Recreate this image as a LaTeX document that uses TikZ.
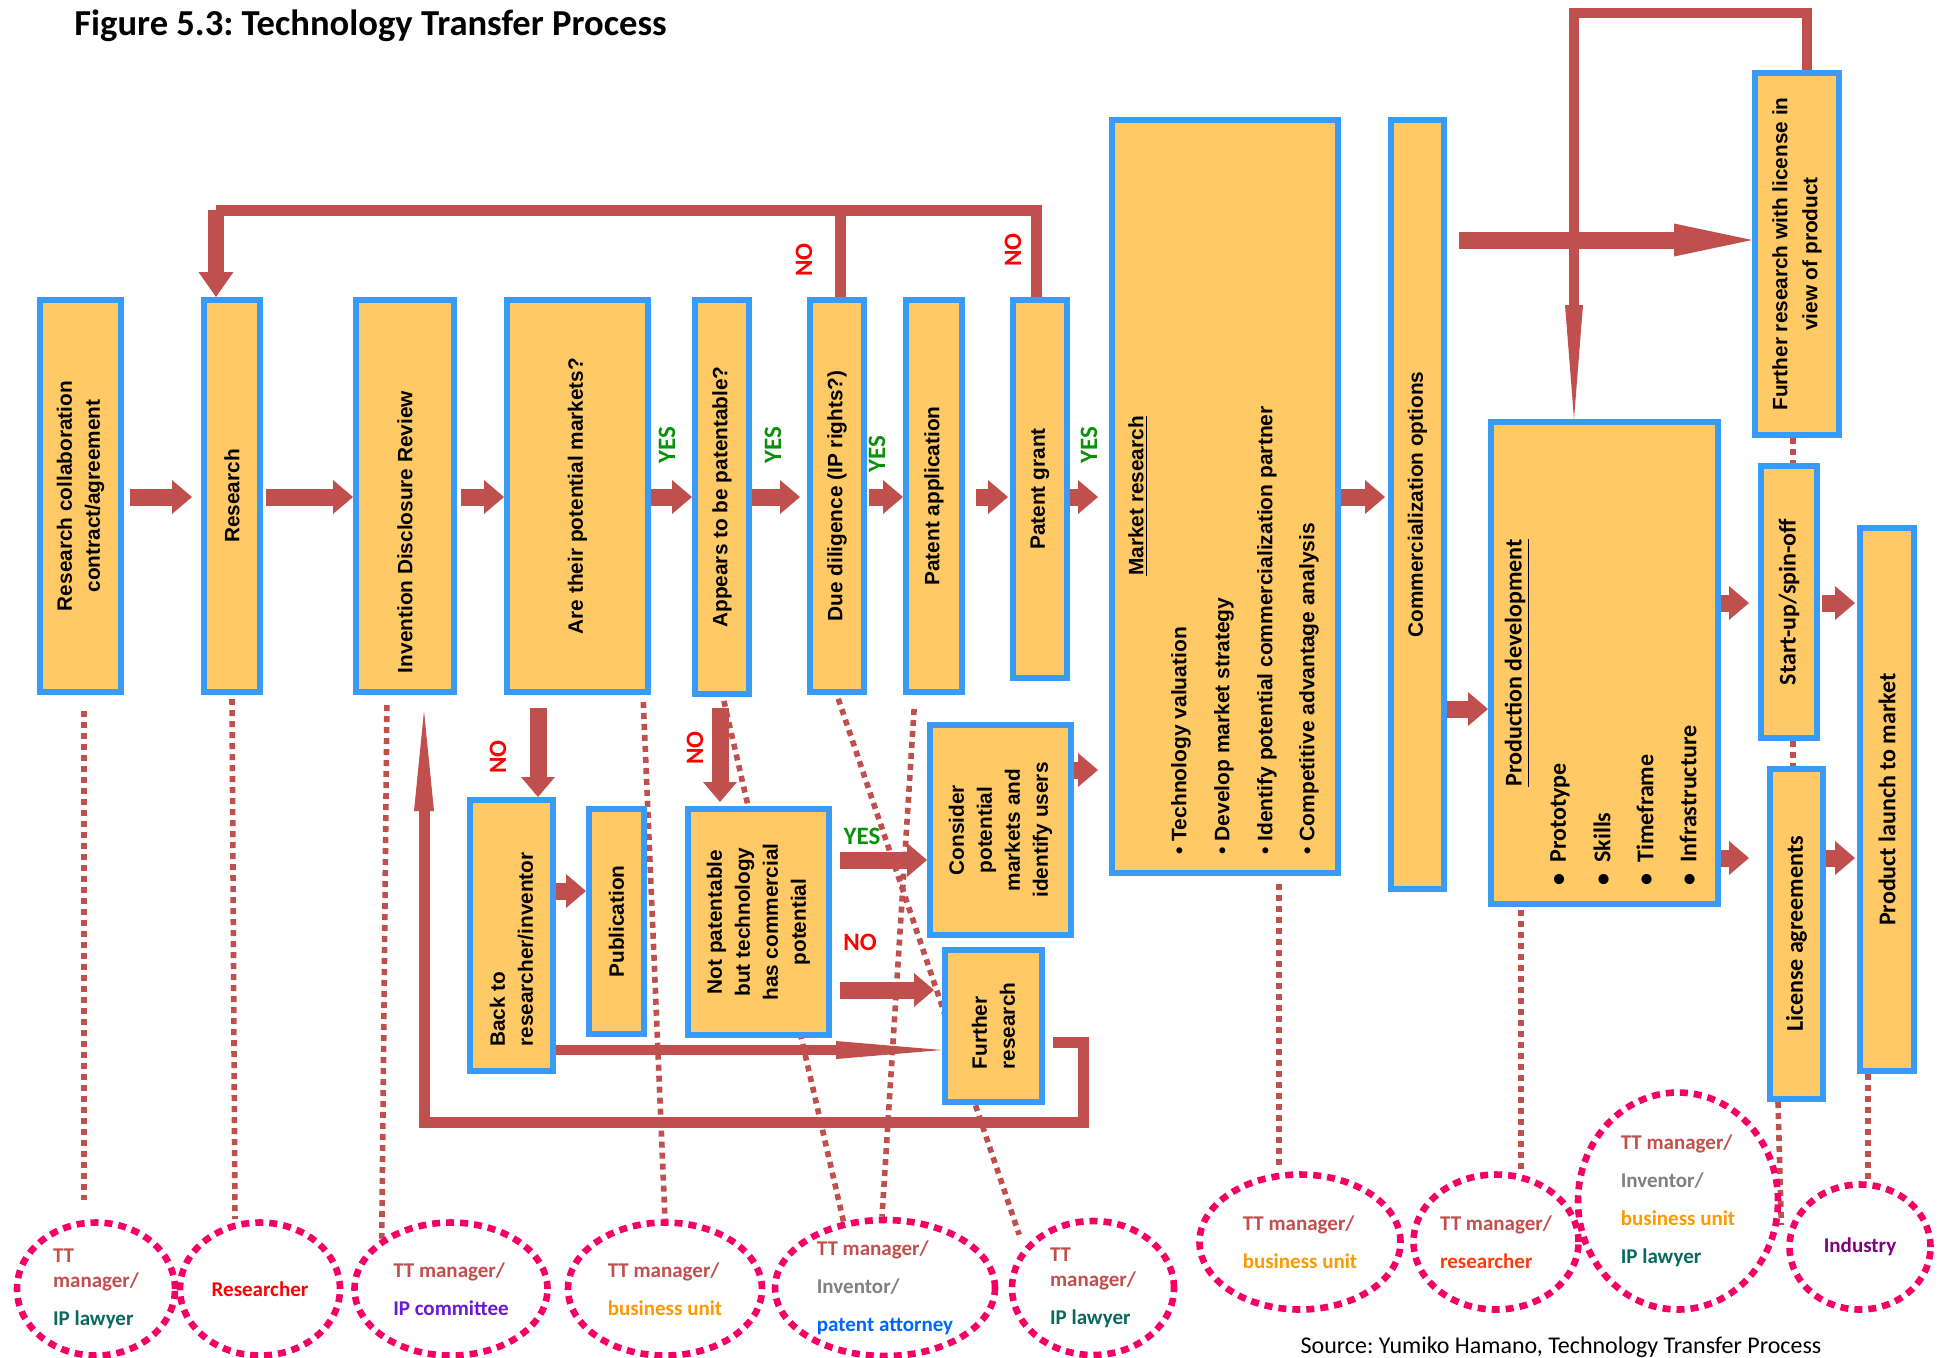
\documentclass[tikz,border=0pt]{standalone}
\usepackage{fontspec}
\setmainfont{Liberation Sans}
\newfontfamily\carlito{Carlito}
\usepackage{xcolor}
\usetikzlibrary{arrows.meta, positioning, fit, backgrounds, calc, shapes.geometric}
\frenchspacing

\definecolor{boxfill}{RGB}{255,202,102}
\definecolor{boxblue}{RGB}{58,154,248}
\definecolor{flowred}{RGB}{192,80,77}
\definecolor{yesgreen}{RGB}{10,145,10}
\definecolor{nored}{RGB}{255,0,0}
\definecolor{rolepink}{RGB}{245,0,100}
\definecolor{ttbrown}{RGB}{192,80,77}
\definecolor{lawteal}{RGB}{10,105,95}
\definecolor{cttviolet}{RGB}{105,25,215}
\definecolor{unitorange}{RGB}{255,153,0}
\definecolor{invgray}{RGB}{128,128,128}
\definecolor{attblue}{RGB}{0,102,255}
\definecolor{resred}{RGB}{255,0,0}
\definecolor{resorange}{RGB}{250,60,10}
\definecolor{indpurple}{RGB}{128,0,128}

\begin{document}
\begin{tikzpicture}[x=0.5pt, y=-0.5pt,
    box/.style={draw=boxblue, line width=3pt, fill=boxfill, inner sep=0pt},
    vtxt/.style={rotate=90, align=center, inner sep=0pt, font=\bfseries\fontsize{10.4}{14}\selectfont},
    ctxt/.style={rotate=90, align=center, inner sep=0pt, font=\carlito\bfseries\fontsize{12}{15}\selectfont},
    mitem/.style={rotate=90, anchor=west, inner sep=0pt, font=\bfseries\fontsize{10.5}{14}\selectfont},
    pitem/.style={rotate=90, anchor=west, inner sep=0pt, font=\carlito\bfseries\fontsize{12}{15}\selectfont},
    role/.style 2 args={ellipse, draw=rolepink, line width=3.3pt, dash pattern=on 4pt off 3pt,
        minimum width=#1, minimum height=#2, inner sep=0pt, align=left,
        font=\carlito\bfseries\fontsize{10.5}{19}\selectfont},
    yesv/.style={rotate=90, inner sep=0pt, text=yesgreen, font=\carlito\bfseries\fontsize{12.5}{14}\selectfont},
    nov/.style={yesv, text=nored},
    yesh/.style={inner sep=0pt, text=yesgreen, font=\carlito\bfseries\fontsize{12.5}{14}\selectfont},
    noh/.style={yesh, text=nored},
    arr/.style={color=flowred, line width=8.5pt, -{Triangle[length=10pt, width=17pt, line width=0pt]}},
    bigarr/.style={color=flowred, line width=8.5pt, -{Triangle[length=39pt, width=16.5pt, line width=0pt]}},
    thinarr/.style={color=flowred, line width=5pt, -{Triangle[length=53pt, width=9pt, line width=0pt]}},
    backline/.style={color=flowred, line width=5.5pt},
    dotline/.style={color=flowred, line width=2.8pt, dash pattern=on 3pt off 2.5pt}
]
    \useasboundingbox (0,0) rectangle (1939,1357);

    % Title and source
    \node[anchor=west, inner sep=0pt, font=\carlito\bfseries\fontsize{18.3}{22}\selectfont] (title) at (74,26) {Figure 5.3: Technology Transfer Process};
    \node[inner sep=0pt, font=\carlito\fontsize{12}{14}\selectfont] (source) at (1561,1347) {Source: Yumiko Hamano, Technology Transfer Process};

    % Main row
    \node[box, fit={(40,300) (121,692)}] (rca) {};
    \node[box, fit={(204,300) (260,692)}] (res) {};
    \node[box, fit={(356,300) (454,692)}] (idr) {};
    \node[box, fit={(507,300) (648,692)}] (mkt) {};
    \node[box, fit={(695,300) (749,694)}] (pat) {};
    \node[box, fit={(810,300) (864,692)}] (due) {};
    \node[box, fit={(906,300) (962,692)}] (app) {};
    \node[box, fit={(1013,300) (1067,678)}] (grant) {};
    \node[box, fit={(1112,120) (1338,873)}] (mres) {};
    \node[box, fit={(1391,120) (1444,889)}] (comm) {};
    \node[box, fit={(1491,422) (1718,904)}] (prod) {};
    \node[box, fit={(1755,73) (1839,435)}] (frl) {};
    \node[box, fit={(1761,466) (1817,738)}] (start) {};
    \node[box, fit={(1770,769) (1823,1099)}] (lic) {};
    \node[box, fit={(1860,528) (1914,1071)}] (launch) {};

    % Lower branch
    \node[box, fit={(470,800) (553,1071)}] (back) {};
    \node[box, fit={(589,809) (644,1034)}] (pub) {};
    \node[box, fit={(688,809) (829,1035)}] (notp) {};
    \node[box, fit={(930,725) (1071,935)}] (cons) {};
    \node[box, fit={(945,950) (1042,1102)}] (furth) {};

    % Box texts
    \node[vtxt] (rca-t) at (rca) {Research collaboration\\contract/agreement};
    \node[vtxt] (res-t) at (res) {Research};
    \node[vtxt] (idr-t) at ($(idr)+(0,36)$) {Invention Disclosure Review};
    \node[vtxt] (mkt-t) at (mkt) {Are their potential markets?};
    \node[vtxt] (pat-t) at (pat) {Appears to be patentable?};
    \node[vtxt] (due-t) at (due) {Due diligence (IP rights?)};
    \node[vtxt] (app-t) at (app) {Patent application};
    \node[vtxt] (grant-t) at (grant) {Patent grant};
    \node[vtxt] (comm-t) at (comm) {Commercialization options};
    \node[vtxt, font=\bfseries\fontsize{10.4}{15}\selectfont] (frl-t) at (frl) {Further research with license in\\view of product};
    \node[ctxt] (start-t) at (start) {Start-up/spin-off};
    \node[ctxt] (lic-t) at (lic) {License agreements};
    \node[ctxt] (launch-t) at (launch) {Product launch to market};
    \node[vtxt, align=left] (back-t) at ($(back)+(0,14)$) {Back to\\researcher/inventor};
    \node[vtxt] (pub-t) at (pub) {Publication};
    \node[vtxt] (notp-t) at (notp) {Not patentable\\but technology\\has commercial\\potential};
    \node[vtxt] (cons-t) at (cons) {Consider\\potential\\markets and\\identify users};
    \node[vtxt, align=left] (furth-t) at (furth) {Further\\research};

    % Market research content
    \node[vtxt] (mres-h) at (1138,496) {\underline{Market research}};
    \node[mitem] (mres-i1) at (1181,855) {• Technology valuation};
    \node[mitem] (mres-i2) at (1224,855) {• Develop market strategy};
    \node[mitem] (mres-i3) at (1267,855) {• Identify potential commercialization partner};
    \node[mitem] (mres-i4) at (1309,855) {• Competitive advantage analysis};

    % Production development content
    \node[ctxt] (prod-h) at (1517,663) {\underline{Production development}};
    \node[pitem] (prod-i1) at (1560,886) {•\hspace{5.5pt}Prototype};
    \node[pitem] (prod-i2) at (1602,886) {•\hspace{5.5pt}Skills};
    \node[pitem] (prod-i3) at (1645,886) {•\hspace{5.5pt}Timeframe};
    \node[pitem] (prod-i4) at (1688,886) {•\hspace{5.5pt}Infrastructure};

    % Decision labels
    \node[yesv] (yes1) at (667,445) {YES};
    \node[yesv] (yes2) at (773,445) {YES};
    \node[yesv] (yes3) at (877,454) {YES};
    \node[yesv] (yes4) at (1089,445) {YES};
    \node[nov] (no1) at (804,260) {NO};
    \node[nov] (no2) at (1013,250) {NO};
    \node[nov] (no3) at (498,757) {NO};
    \node[nov] (no4) at (695,748) {NO};
    \node[yesh] (yes5) at (862,836) {YES};
    \node[noh] (no5) at (860,942) {NO};

    % Actors
    \node[role={79pt}{66.5pt}] (e1) at (96,1289) {\textcolor{ttbrown}{TT}\\[-6.25pt]\textcolor{ttbrown}{manager/}\\\textcolor{lawteal}{IP lawyer}};
    \node[role={80pt}{66.5pt}] (e2) at (260,1289) {\textcolor{resred}{Researcher}};
    \node[role={96.5pt}{66.5pt}] (e3) at (451,1289) {\textcolor{ttbrown}{TT manager/}\\\textcolor{cttviolet}{IP committee}};
    \node[role={97pt}{66.5pt}] (e4) at (665,1289) {\textcolor{ttbrown}{TT manager/}\\\textcolor{unitorange}{business unit}};
    \node[role={110pt}{68pt}] (e5) at (885,1288) {\textcolor{ttbrown}{TT manager/}\\\textcolor{invgray}{Inventor/}\\\textcolor{attblue}{patent attorney}};
    \node[role={81pt}{67pt}] (e6) at (1093,1288) {\textcolor{ttbrown}{TT}\\[-6.25pt]\textcolor{ttbrown}{manager/}\\\textcolor{lawteal}{IP lawyer}};
    \node[role={100.5pt}{67.5pt}] (e7) at (1300,1242) {\textcolor{ttbrown}{TT manager/}\\\textcolor{unitorange}{business unit}};
    \node[role={82.5pt}{67.5pt}] (e8) at (1496,1242) {\textcolor{ttbrown}{TT manager/}\\\textcolor{resorange}{researcher}};
    \node[role={100pt}{108.5pt}] (e9) at (1678,1201) {\textcolor{ttbrown}{TT manager/}\\\textcolor{invgray}{Inventor/}\\\textcolor{unitorange}{business unit}\\\textcolor{lawteal}{IP lawyer}};
    \node[role={70.5pt}{62.5pt}] (e10) at (1860,1247) {\textcolor{indpurple}{Industry}};

    \begin{scope}[on background layer]
        % Forward flow
        \draw[arr, shorten <=3pt, shorten >=4.5pt] (rca.east |- 0,497) -- (res.west |- 0,497);
        \draw[arr, shorten <=1.5pt] (res.east |- 0,497) -- (idr.west |- 0,497);
        \draw[arr, shorten <=2pt] (idr.east |- 0,497) -- (mkt.west |- 0,497);
        \draw[arr, shorten <=-4pt] (mkt.east |- 0,497) -- (pat.west |- 0,497);
        \draw[arr, shorten >=3.5pt] (pat.east |- 0,497) -- (due.west |- 0,497);
        \draw[arr, shorten <=1pt] (due.east |- 0,497) -- (app.west |- 0,497);
        \draw[arr, shorten <=5.5pt, shorten >=1pt] (app.east |- 0,497) -- (grant.west |- 0,497);
        \draw[arr, shorten >=5.5pt] (grant.east |- 0,497) -- (mres.west |- 0,497);
        \draw[arr, shorten >=1.5pt] (mres.east |- 0,497) -- (comm.west |- 0,497);
        \draw[arr] (comm.east |- 0,709) -- (prod.west |- 0,709);
        \draw[arr, shorten >=4.5pt] (prod.east |- 0,603) -- (start.west |- 0,603);
        \draw[arr, shorten >=9pt] (prod.east |- 0,858) -- (lic.west |- 0,858);
        \draw[arr, shorten <=1pt, shorten >=1pt] (start.east |- 0,603) -- (launch.west |- 0,603);
        \draw[arr, shorten >=1pt] (lic.east |- 0,858) -- (launch.west |- 0,858);
        \draw[bigarr, shorten <=6pt] (comm.east |- 0,240) -- (frl.west |- 0,240);

        % Lower branch flow
        \draw[arr, shorten <=6.5pt] (mkt.south -| 538,0) -- (back.north -| 538,0);
        \draw[arr, shorten <=5.5pt, shorten >=2pt] (pat.south -| 720,0) -- (notp.north -| 720,0);
        \draw[arr] (back.east |- 0,891) -- (pub.west |- 0,891);
        \draw[arr, shorten <=4pt] (notp.east |- 0,860) -- (cons.west |- 0,860);
        \draw[arr, shorten <=4pt, shorten >=4pt] (notp.east |- 0,990) -- (furth.west |- 0,990);
        \draw[arr, shorten >=5.5pt] (cons.east |- 0,770) -- (mres.west |- 0,770);
        \draw[thinarr] (back.east |- 0,1050) -- (furth.west |- 0,1050);

        % Return loops
        \draw[backline, -{Triangle[length=50pt, width=10pt, line width=0pt]}, shorten <=4pt, shorten >=8pt]
            (furth.east |- 0,1042) -| (1083,1122) -| (idr.south -| 424,0);
        \coordinate (tl) at (216,210);
        \draw[backline] (grant.north -| 1036,0) |- (tl);
        \draw[backline] (due.north -| 840,0) |- (tl);
        \draw[color=flowred, line width=8pt, -{Triangle[length=12.5pt, width=17.5pt, line width=0pt]}] (tl) -- (res.north -| tl);
        \draw[backline, line width=5pt, -{Triangle[length=57pt, width=9pt, line width=0pt]}]
            (frl.north -| 1807,0) |- (1574,13) -- (prod.north -| 1574,0);

        % Responsibility links
        \draw[dotline, shorten <=8pt, shorten >=9.5pt] (rca.south -| 84,0) -- (e1.north -| 84,0);
        \draw[dotline, shorten <=2pt] (res.south -| 232,0) -- (e2.north -| 235,0);
        \draw[dotline, shorten <=5pt] (idr.south -| 387,0) -- (e3.144);
        \draw[dotline, shorten <=3.5pt] (mkt.south -| 643,0) -- (e4.north -| 665,0);
        \draw[dotline, shorten <=2pt] (pat.south -| 723,0) -- (e5.122);
        \draw[dotline, shorten <=2pt, shorten >=7pt] (due.south -| 837,0) -- (e6.150);
        \draw[dotline, shorten <=7pt] (app.south -| 915,0) -- (e5.north -| 882,0);
        \draw[dotline, shorten <=4pt, shorten >=2pt] (mres.south -| 1279,0) -- (e7.north -| 1279,0);
        \draw[dotline, shorten <=1.5pt] (prod.south -| 1521,0) -- (e8.north -| 1521,0);
        \draw[dotline] (frl.south -| 1793,0) -- (start.north -| 1793,0);
        \draw[dotline] (start.south -| 1793,0) -- (lic.north -| 1793,0);
        \draw[dotline] (lic.south -| 1778,0) -- (e9.east |- 0,1225);
        \draw[dotline] (launch.south -| 1868,0) -- (e10.north -| 1868,0);
    \end{scope}
\end{tikzpicture}
\end{document}
